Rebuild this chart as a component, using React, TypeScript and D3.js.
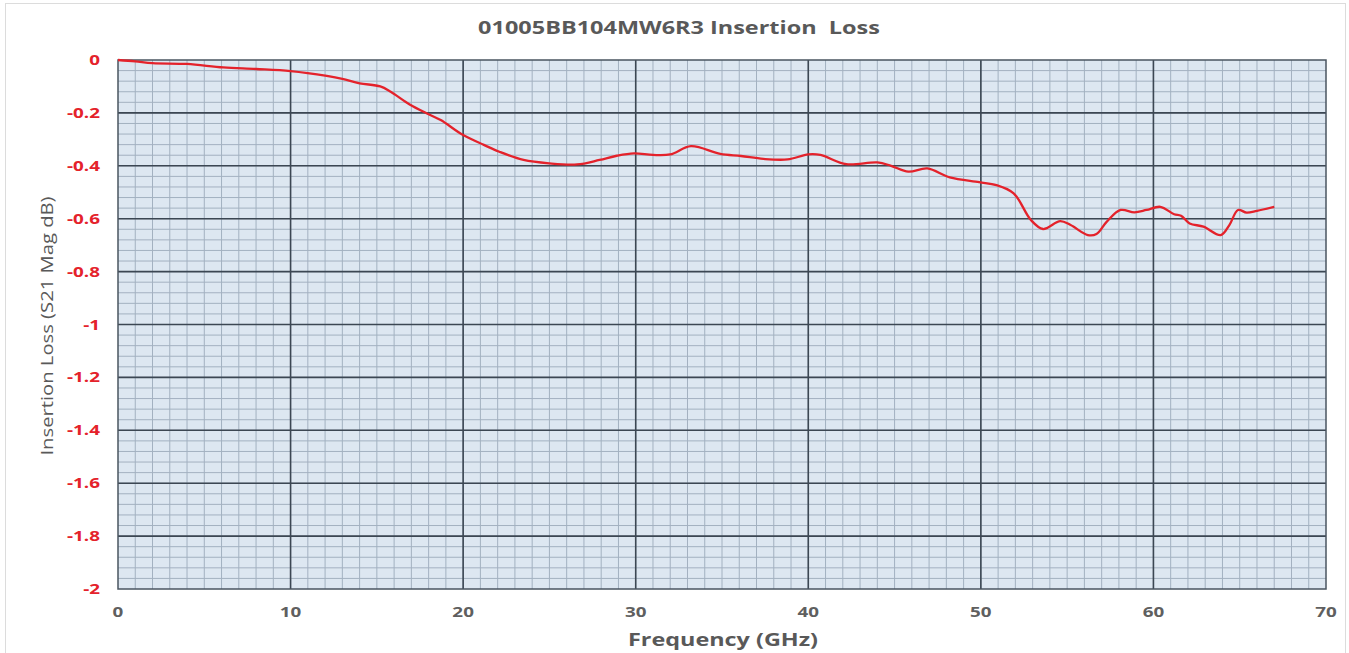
import React, { useEffect, useRef } from "react";
import * as d3 from "d3";

const freqGHz = [
  0, 1, 2, 4, 6.1, 8, 10, 12.1, 13, 14, 15.2, 15.8, 16.9, 18, 18.7, 20, 21.2,
  22.1, 23.5, 25, 26.6, 27.9, 28.9, 29.9, 31, 32, 33.2, 34.9, 36.1, 37.4,
  38.8, 40, 40.7, 42.2, 44, 44.8, 45.8, 46.9, 48.2, 49.9, 50.9, 51.9, 52.9,
  53.6, 54.6, 55.2, 56.2, 56.7, 57.3, 58.1, 58.9, 59.6, 60.4, 61.2, 61.6,
  62.1, 62.9, 63.9, 64.4, 64.9, 65.4, 66, 67,
];
const s21dB = [
  0, -0.005, -0.012, -0.015, -0.028, -0.034, -0.042, -0.06, -0.071, -0.088,
  -0.1, -0.12, -0.168, -0.205, -0.227, -0.284, -0.321, -0.347, -0.378,
  -0.391, -0.395, -0.378, -0.362, -0.353, -0.359, -0.357, -0.326, -0.355,
  -0.363, -0.374, -0.376, -0.357, -0.359, -0.394, -0.387, -0.4, -0.422,
  -0.41, -0.444, -0.462, -0.473, -0.504, -0.605, -0.639, -0.609, -0.624,
  -0.662, -0.658, -0.611, -0.567, -0.576, -0.567, -0.555, -0.583, -0.589,
  -0.618, -0.63, -0.662, -0.624, -0.567, -0.577, -0.57, -0.555,
];
const xTicks = [0, 10, 20, 30, 40, 50, 60, 70];
const yTicks = [0, -0.2, -0.4, -0.6, -0.8, -1, -1.2, -1.4, -1.6, -1.8, -2];

const App: React.FC = () => {
  const svgRef = useRef<SVGSVGElement>(null);

  useEffect(() => {
    if (!svgRef.current) return;
    document.body.style.margin = "0";

    const width = 1349;
    const height = 653;
    const margin = { top: 60, right: 23, bottom: 64, left: 118 };

    const svg = d3.select(svgRef.current);
    svg.selectAll("*").remove();
    svg.attr("width", width).attr("height", height);

    svg
      .append("rect")
      .attr("width", width)
      .attr("height", height)
      .attr("fill", "#fff");

    svg
      .append("rect")
      .attr("x", 5.5)
      .attr("y", 3.5)
      .attr("width", width - 9)
      .attr("height", height)
      .attr("fill", "none")
      .attr("stroke", "#dcdcdc");

    const x = d3
      .scaleLinear()
      .domain([0, 70])
      .range([margin.left, width - margin.right]);
    const y = d3
      .scaleLinear()
      .domain([-2, 0])
      .range([height - margin.bottom, margin.top]);

    const [x0, x1] = x.range();
    const [y1, y0] = y.range();

    svg
      .append("rect")
      .attr("x", x0)
      .attr("y", y0)
      .attr("width", x1 - x0)
      .attr("height", y1 - y0)
      .attr("fill", "#dde7f1");

    // minor grid: 1 GHz / 0.04 dB
    const grid = svg.append("g");
    grid
      .selectAll(".vminor")
      .data(d3.range(1, 70))
      .enter()
      .append("line")
      .attr("x1", (d) => x(d))
      .attr("x2", (d) => x(d))
      .attr("y1", y0)
      .attr("y2", y1)
      .attr("stroke", "#a3b1c0")
      .attr("stroke-width", 1);
    grid
      .selectAll(".hminor")
      .data(d3.range(1, 50).map((i) => -i * 0.04))
      .enter()
      .append("line")
      .attr("x1", x0)
      .attr("x2", x1)
      .attr("y1", (d) => y(d))
      .attr("y2", (d) => y(d))
      .attr("stroke", "#a3b1c0")
      .attr("stroke-width", 1);

    // major grid
    grid
      .selectAll(".vmajor")
      .data(xTicks.slice(1, -1))
      .enter()
      .append("line")
      .attr("x1", (d) => x(d))
      .attr("x2", (d) => x(d))
      .attr("y1", y0)
      .attr("y2", y1)
      .attr("stroke", "#3c4753")
      .attr("stroke-width", 1.6);
    grid
      .selectAll(".hmajor")
      .data(yTicks.slice(1, -1))
      .enter()
      .append("line")
      .attr("x1", x0)
      .attr("x2", x1)
      .attr("y1", (d) => y(d))
      .attr("y2", (d) => y(d))
      .attr("stroke", "#3c4753")
      .attr("stroke-width", 1.6);

    svg
      .append("rect")
      .attr("x", x0)
      .attr("y", y0)
      .attr("width", x1 - x0)
      .attr("height", y1 - y0)
      .attr("fill", "none")
      .attr("stroke", "#4a5560")
      .attr("stroke-width", 1.5);

    const line = d3
      .line<number>()
      .x((d) => x(d))
      .y((_d, i) => y(s21dB[i]))
      .curve(d3.curveCatmullRom.alpha(0.5));

    svg
      .append("path")
      .datum(freqGHz)
      .attr("d", line)
      .attr("fill", "none")
      .attr("stroke", "#e4222b")
      .attr("stroke-width", 2.3);

    const font = "'Open Sans', 'DejaVu Sans', sans-serif";
    // the source font is wider than Open Sans, so text is stretched a bit
    const wide = 1.3;

    svg
      .append("g")
      .selectAll("text")
      .data(yTicks)
      .enter()
      .append("text")
      .attr("transform", (d) => `translate(${x0 - 18},${y(d) + 5}) scale(${wide},1)`)
      .attr("text-anchor", "end")
      .style("font-family", font)
      .style("font-size", "14.5px")
      .style("font-weight", "bold")
      .style("fill", "#e4222b")
      .text((d) => String(d));

    svg
      .append("g")
      .selectAll("text")
      .data(xTicks)
      .enter()
      .append("text")
      .attr("transform", (d) => `translate(${x(d)},617) scale(${wide},1)`)
      .attr("text-anchor", "middle")
      .style("font-family", font)
      .style("font-size", "14.5px")
      .style("font-weight", "bold")
      .style("fill", "#5f5f5f")
      .text((d) => d);

    svg
      .append("text")
      .attr("transform", `translate(679,34) scale(1.34,1)`)
      .attr("text-anchor", "middle")
      .style("font-family", font)
      .style("font-size", "17.5px")
      .style("font-weight", "bold")
      .style("fill", "#595959")
      .style("white-space", "pre")
      .text("01005BB104MW6R3 Insertion  Loss");

    svg
      .append("text")
      .attr("transform", `translate(723,646) scale(${wide},1)`)
      .attr("text-anchor", "middle")
      .style("font-family", font)
      .style("font-size", "18px")
      .style("font-weight", "bold")
      .style("fill", "#595959")
      .text("Frequency (GHz)");

    svg
      .append("text")
      .attr("transform", `translate(53, 326) rotate(-90) scale(1.19,1)`)
      .attr("text-anchor", "middle")
      .style("font-family", font)
      .style("font-size", "17px")
      .style("fill", "#595959")
      .text("Insertion Loss (S21 Mag dB)");
  }, []);

  return <svg ref={svgRef} style={{ display: "block" }} />;
};

export default App;
